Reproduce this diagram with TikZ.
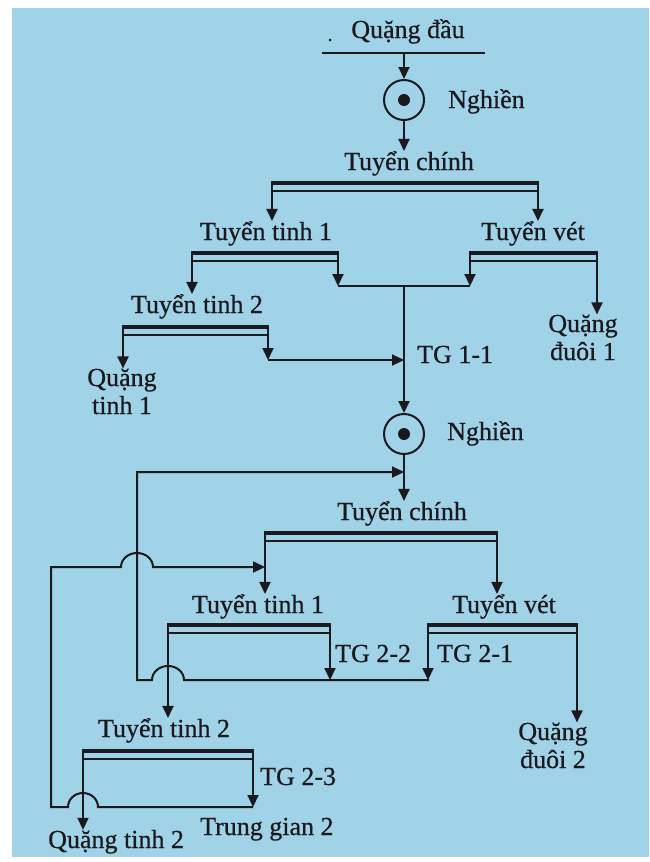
\documentclass[tikz,border=0pt]{standalone}
\usepackage{fontspec}
\setmainfont{Liberation Serif}[FakeBold=0.6]
\usetikzlibrary{arrows.meta, positioning, calc}
\definecolor{paperblue}{RGB}{160, 210, 232}
\definecolor{inkdark}{RGB}{25, 25, 30}

\begin{document}
\begin{tikzpicture}[x=1pt, y=-1pt,
  every node/.style={font=\fontsize{26}{28}\selectfont, text=inkdark, inner sep=0pt},
  lbl/.style={anchor=base},
  lblw/.style={anchor=base west},
  outlbl/.style={anchor=base, align=center},
  flow/.style={draw=inkdark, line width=2pt, -{Triangle[length=12pt, width=11pt]}},
  pipe/.style={draw=inkdark, line width=2pt},
  bar/.style={draw=inkdark, line width=4.5pt},
  mill/.style={circle, draw=inkdark, line width=2pt, minimum size=40pt}
]
% scanned page
\fill[white] (0,0) rectangle (649,862);
\fill[paperblue] (12,8) rectangle (649,857);
\useasboundingbox (0,0) rectangle (649,862);

% separators: name/left/right/top
\foreach \n/\xa/\xb/\y in {tc1/272/538/183, tt11/192/338/253, tv1/470/597/253, tt21/123/268/327,
                            tc2/265/497/533, tt12/168/330/625, tv2/428/577/625, tt22/83/253/751}{
  \coordinate (\n-L) at (\xa,\y);
  \coordinate (\n-R) at (\xb,\y);
  \draw[pipe] ([yshift=-8pt]\n-L) -- ([yshift=-8pt]\n-R);
  \draw[bar] ([xshift=-1pt]\n-L) -- ([xshift=1pt]\n-R);
}

% stage 1
\node[lbl] (feed) at (408,38) {Quặng đầu};
\fill[inkdark] (330,40) circle (1.5pt);
\coordinate (feedL) at (322,53);
\coordinate (feedR) at (485,53);
\draw[pipe] (feedL) -- (feedR);
\node[mill] (mill1) at (404,100) {};
\fill[inkdark] (mill1) circle (6pt);
\node[lblw] (mill1txt) at (448,108) {Nghiền};
\draw[flow] (feedL -| mill1) -- (mill1.north);
\node[lbl] (tc1txt) at (409,170) {Tuyển chính};
\draw[flow] (mill1.south) -- (mill1.south |- tc1txt.north);

\node[lbl] (tt11txt) at (266,240) {Tuyển tinh 1};
\node[lbl] (tv1txt) at (533,240) {Tuyển vét};
\draw[flow] (tc1-L) -- (tc1-L |- tt11txt.north);
\draw[flow] (tc1-R) -- (tc1-R |- tv1txt.north);

\node[lbl] (tt21txt) at (197,313) {Tuyển tinh 2};
\node[outlbl] (qd1) at (583,360) {Quặng\\đuôi 1};
\draw[flow] (tt11-L) -- (tt11-L |- tt21txt.north);
\draw[flow] (tv1-R) -- (tv1-R |- qd1.north);

\coordinate (j1) at (404,286);
\draw[flow] (tt11-R) -- (tt11-R |- j1);
\draw[flow] (tv1-L) -- (tv1-L |- j1);
\draw[pipe] (tt11-R |- j1) -- (tv1-L |- j1);

\node[outlbl] (qt1) at (122,414) {Quặng\\tinh 1};
\draw[flow] (tt21-L) -- (tt21-L |- qt1.north);
\coordinate (j2) at (404,360);
\draw[flow] (tt21-R) -- (tt21-R |- j2);
\draw[flow] (tt21-R |- j2) -- (j2);
\node[lblw] (tg11) at (417,363) {TG 1-1};

% stage 2
\node[mill] (mill2) at (404,434) {};
\fill[inkdark] (mill2) circle (6pt);
\node[lblw] (mill2txt) at (447,440) {Nghiền};
\draw[flow] (j1) -- (mill2.north);
\node[lbl] (tc2txt) at (402,520) {Tuyển chính};
\draw[flow] (mill2.south) -- (mill2.south |- tc2txt.north);

\node[lbl] (tt12txt) at (258,613) {Tuyển tinh 1};
\node[lbl] (tv2txt) at (504,613) {Tuyển vét};
\draw[flow] (tc2-L) -- (tc2-L |- tt12txt.north);
\draw[flow] (tc2-R) -- (tc2-R |- tv2txt.north);

\node[lblw] (tg22) at (335,662) {TG 2-2};
\node[lblw] (tg21) at (437,662) {TG 2-1};
\node[outlbl] (qd2) at (553,768) {Quặng\\đuôi 2};
\draw[flow] (tv2-R) -- (tv2-R |- qd2.north);

\node[lbl] (tt22txt) at (164,737) {Tuyển tinh 2};
\draw[flow] (tt12-L) -- (tt12-L |- tt22txt.north);

% recycle TG 2-1 + TG 2-2 -> mill 2
\coordinate (j3) at (404,472);
\coordinate (j4) at (429,680);
\coordinate (cA) at (137,680);
\coordinate (cB) at (137,472);
\draw[flow] (tv2-L) -- (tv2-L |- j4);
\draw[flow] (tt12-R) -- (tt12-R |- j4);
\draw[flow] (j4) -- ([xshift=16pt]tt12-L |- j4)
  arc[start angle=0, end angle=-180, x radius=16, y radius=14] -- (cA) -- (cB) -- (j3);

% TG 2-3 -> Tuyen tinh 1
\node[lblw] (tg23) at (260,785) {TG 2-3};
\node[lblw] (tg2) at (200,835) {Trung gian 2};
\node[lblw] (qt2) at (48,848) {Quặng tinh 2};
\draw[flow] (tt22-L) -- (tt22-L |- qt2.north);
\coordinate (j5) at (253,807);
\coordinate (cC) at (51,807);
\coordinate (cD) at (51,567);
\draw[flow] (tt22-R) -- (j5);
\draw[flow] (j5) -- ([xshift=15pt]tt22-L |- j5)
  arc[start angle=0, end angle=-180, x radius=15, y radius=14] -- (cC) -- (cD)
  -- ([xshift=-16pt]cB |- cD)
  arc[start angle=180, end angle=360, x radius=16, y radius=14] -- (tc2-L |- cD);
\end{tikzpicture}
\end{document}
